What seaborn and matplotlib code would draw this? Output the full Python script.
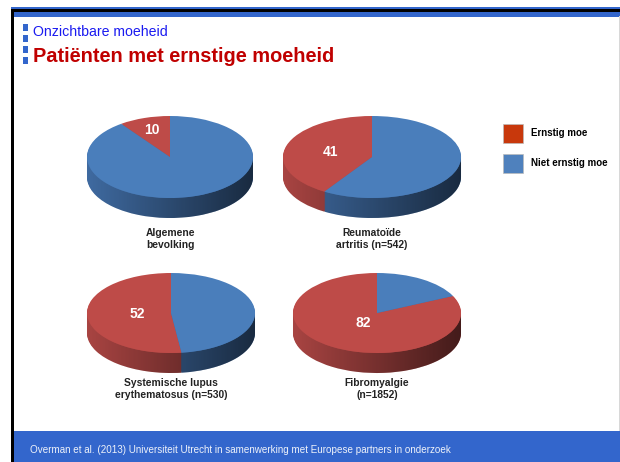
import numpy as np
import matplotlib
matplotlib.use("Agg")
import matplotlib.pyplot as plt
from matplotlib.patches import Rectangle, Polygon
import seaborn as sns

sns.set_theme(style="white")
plt.rcParams['font.family'] = ['Liberation Sans', 'DejaVu Sans']

# ---------------- data ----------------
categories = ["Algemene\nbevolking",
              "Reumatoïde\nartritis (n=542)",
              "Systemische lupus\nerythematosus (n=530)",
              "Fibromyalgie\n(n=1852)"]
ernstig = [10, 41, 52, 82]
niet_ernstig = [90, 59, 48, 18]
series = ["Ernstig moe", "Niet ernstig moe"]
subtitle = "Onzichtbare moeheid"
title = "Patiënten met ernstige moeheid"
source = "Overman et al. (2013) Universiteit Utrecht in samenwerking met Europese partners in onderzoek"

# ---------------- style ----------------
W, H = 620, 462
top_colors = ["#BE4B48", "#4A7EBB"]
side_colors = ["#A84442", "#3F6AA0"]
legend_colors = ["#C8380C", "#4F81BD"]
slide_blue = "#3366CC"

fig = plt.figure(figsize=(W / 100, H / 100), dpi=100)
bg = fig.add_axes([0, 0, 1, 1])
bg.set_xlim(0, W)
bg.set_ylim(H, 0)
bg.axis("off")

# slide frame
bg.add_patch(Rectangle((11, 7), W - 11, 2, color=slide_blue, lw=0))
bg.add_patch(Rectangle((11, 9), W - 11, 2.5, color="black", lw=0))
bg.add_patch(Rectangle((11, 11.5), W - 11, 5, color=slide_blue, lw=0))
bg.add_patch(Rectangle((11, 9), 2.5, H - 9, color="black", lw=0))
bg.add_patch(Rectangle((618.5, 16), 1.5, 415, color="#D8D8D8", lw=0))
bg.add_patch(Rectangle((13.5, 431), W - 13.5, H - 431, color=slide_blue, lw=0))
for yb in [24, 35, 46, 57]:
    bg.add_patch(Rectangle((22.5, yb), 5.5, 7, color=slide_blue, lw=0))

bg.text(33, 32, subtitle, color="#1A1AF0", fontsize=10.2, ha="left", va="center")
bg.text(33, 56, title, color="#C00000", fontsize=14.4, fontweight="bold",
        ha="left", va="center")
bg.text(30, 450, source, color="#EEF2FA", fontsize=7.15, ha="left", va="center")

# legend
for i, (lab, col) in enumerate(zip(series, legend_colors)):
    y0 = 124 + i * 30
    bg.add_patch(Rectangle((503, y0), 20, 19, facecolor=col, edgecolor="#BBBBBB", lw=0.5))
    bg.text(531, y0 + 9.5, lab, fontsize=7, fontweight="bold", color="black",
            ha="left", va="center")

# ---------------- pies ----------------
centers = [(170, 157), (372, 157), (171, 313), (377, 313)]
semi_a = [83, 89, 84, 84]
semi_b = [41, 41, 40, 40]
depth = 20
label_r = [0.7, 0.48, 0.4, 0.3]

grad = np.zeros((1, 256, 4))
grad[..., 3] = np.linspace(0.0, 0.6, 256)

for i, cat in enumerate(categories):
    cx, cy = centers[i]
    a, b = semi_a[i], semi_b[i]
    dd = depth / b
    ax = fig.add_axes([(cx - a) / W, (H - (cy + b + depth)) / H,
                       2 * a / W, (2 * b + depth) / H])
    vals = [ernstig[i], niet_ernstig[i]]
    # side: stacked layers
    nlayers = depth
    for k in np.linspace(dd, dd / nlayers, nlayers):
        ax.pie(vals, colors=side_colors, startangle=90, counterclock=True,
               center=(0, -k), radius=1, wedgeprops=dict(linewidth=0))
    # shading gradient on the side
    t1 = np.linspace(np.pi, 2 * np.pi, 100)
    pts = np.concatenate([np.c_[np.cos(t1), np.sin(t1)],
                          np.c_[np.cos(t1[::-1]), np.sin(t1[::-1]) - dd]])
    clip = Polygon(pts, closed=True, transform=ax.transData, facecolor="none", lw=0)
    ax.add_patch(clip)
    im = ax.imshow(grad, extent=(-1, 1, -1 - dd, 0), aspect="auto", zorder=5)
    im.set_clip_path(clip)
    # top
    wedges, _ = ax.pie(vals, colors=top_colors, startangle=90, counterclock=True,
                       center=(0, 0), radius=1, wedgeprops=dict(linewidth=0))
    for w in wedges:
        w.set_zorder(10)
    w0 = wedges[0]
    mid = np.deg2rad((w0.theta1 + w0.theta2) / 2)
    ax.text(label_r[i] * np.cos(mid), label_r[i] * np.sin(mid), str(ernstig[i]),
            color="white", fontsize=10, fontweight="bold", ha="center", va="center",
            zorder=20)
    ax.set_aspect("auto")
    ax.set_xlim(-1, 1)
    ax.set_ylim(-1 - dd, 1)
    ax.axis("off")
    # caption
    ycap = 239 if i < 2 else 389
    bg.text(cx, ycap, cat, fontsize=7.4, fontweight="bold", color="#222222",
            ha="center", va="center", linespacing=1.2)

fig.savefig("out.png", dpi=100)
